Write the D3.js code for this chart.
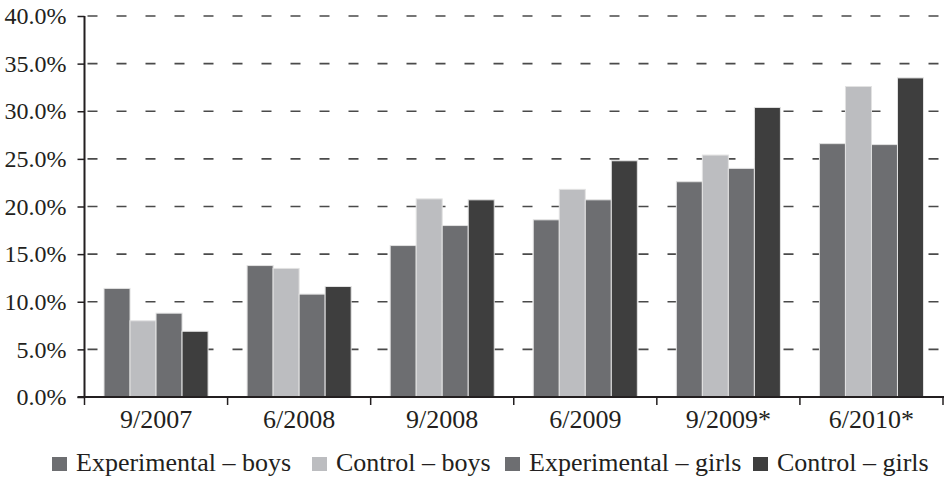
<!DOCTYPE html>
<html>
<head>
<meta charset="utf-8">
<script src="https://cdn.jsdelivr.net/npm/d3@7"></script>
<style>
  html, body { margin: 0; padding: 0; background: #fff; }
  svg { display: block; }
  text { font-family: "Liberation Serif", "DejaVu Serif", serif; fill: #231f20; }
</style>
</head>
<body>
<svg id="chart" width="944" height="482"></svg>
<script>
const categories = ["9/2007", "6/2008", "9/2008", "6/2009", "9/2009*", "6/2010*"];
const seriesNames = ["Experimental – boys", "Control – boys", "Experimental – girls", "Control – girls"];
const expBoys   = [11.4, 13.8, 15.9, 18.6, 22.6, 26.6];
const ctrlBoys  = [8.0, 13.5, 20.8, 21.8, 25.4, 32.6];
const expGirls  = [8.8, 10.8, 18.0, 20.7, 24.0, 26.5];
const ctrlGirls = [6.9, 11.6, 20.7, 24.8, 30.4, 33.5];
const yTicks = [0, 5, 10, 15, 20, 25, 30, 35, 40];
const colors = ["#6d6e71", "#bcbdc0", "#6d6e71", "#3e3e3e"];

const seriesValues = [expBoys, ctrlBoys, expGirls, ctrlGirls];
const data = categories.map((c, i) => ({
  cat: c,
  vals: seriesNames.map((s, j) => ({ key: s, idx: j, value: seriesValues[j][i] }))
}));

const svg = d3.select("#chart");
const mLeft = 84.5, mRight = 943, mTop = 16, mBottom = 397;

const x0 = d3.scaleBand().domain(categories).range([mLeft, mRight]).padding(0);
const x1 = d3.scaleBand().domain(seriesNames).range([0, x0.bandwidth()]).paddingInner(0).paddingOuter(0.75);
const y = d3.scaleLinear().domain([0, 40]).range([mBottom, mTop]);

// grid
svg.append("g").selectAll("line").data(yTicks.filter(d => d > 0)).join("line")
  .attr("x1", mLeft).attr("x2", mRight)
  .attr("y1", d => y(d)).attr("y2", d => y(d))
  .attr("stroke", "#4a4a4a").attr("stroke-width", 1.6)
  .attr("stroke-dasharray", "10,19").attr("stroke-dashoffset", 26);

// bars
const groups = svg.append("g").selectAll("g").data(data).join("g")
  .attr("transform", d => `translate(${x0(d.cat)},0)`);
groups.selectAll("rect").data(d => d.vals).join("rect")
  .attr("x", d => x1(d.key))
  .attr("width", x1.bandwidth())
  .attr("y", d => y(d.value))
  .attr("height", d => y(0) - y(d.value))
  .attr("fill", d => colors[d.idx])
  .attr("stroke", "#e2e2e2").attr("stroke-width", 1);

// y axis
const yAxis = svg.append("g").attr("transform", `translate(${mLeft},0)`)
  .call(d3.axisLeft(y).tickValues(yTicks).tickSize(7).tickPadding(11).tickFormat(d => d.toFixed(1) + "%"));
yAxis.select(".domain").attr("stroke", "#231f20").attr("stroke-width", 2).attr("d", `M0,${mTop}V${mBottom}`);
yAxis.selectAll(".tick line").attr("stroke", "#231f20").attr("stroke-width", 1.5);
yAxis.selectAll("text").attr("font-size", 24).attr("font-family", "Liberation Serif").attr("fill", "#231f20");

// x axis
const xAxis = svg.append("g").attr("transform", `translate(0,${mBottom})`)
  .call(d3.axisBottom(x0).tickSize(0).tickPadding(13));
xAxis.select(".domain").remove();
xAxis.selectAll("text").attr("font-size", 26).attr("font-family", "Liberation Serif").attr("fill", "#231f20");
svg.append("line").attr("x1", mLeft - 7).attr("x2", mRight + 1).attr("y1", mBottom).attr("y2", mBottom)
  .attr("stroke", "#231f20").attr("stroke-width", 2.2);
const boundaries = categories.map(c => x0(c)).concat([x0(categories[categories.length - 1]) + x0.bandwidth()]);
svg.append("g").selectAll("line").data(boundaries).join("line")
  .attr("x1", d => d).attr("x2", d => d).attr("y1", mBottom).attr("y2", mBottom + 8)
  .attr("stroke", "#231f20").attr("stroke-width", 1.5);

// legend
const legendX = [52, 312, 505, 753];
const leg = svg.append("g").selectAll("g").data(seriesNames).join("g")
  .attr("transform", (d, i) => `translate(${legendX[i]},0)`);
leg.append("rect").attr("x", 0).attr("y", 457).attr("width", 15).attr("height", 14)
  .attr("fill", (d, i) => colors[i]);
leg.append("text").attr("x", 24).attr("y", 471).attr("font-size", 26).text(d => d);
</script>
</body>
</html>
